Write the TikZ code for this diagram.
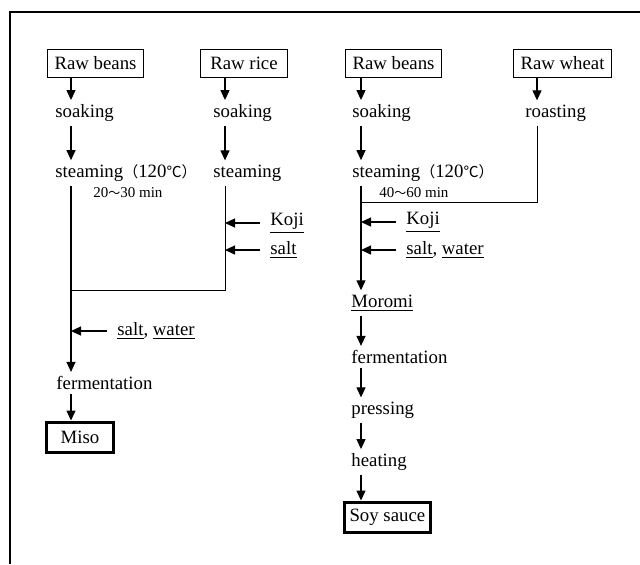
\documentclass[tikz,border=0pt]{standalone}
\usepackage{fontspec}
\setmainfont{Liberation Serif}
\newfontfamily\cjk[Scale=0.8]{Noto Sans CJK JP}
\usepackage{tikz}
\usetikzlibrary{arrows.meta, positioning, calc}

\begin{document}
\begin{tikzpicture}[
    x=0.5pt, y=-0.5pt,
    font=\fontsize{9.4}{11}\selectfont,
    rawbox/.style={draw, line width=0.5pt, inner xsep=3.5pt, minimum height=14pt, anchor=west},
    endbox/.style={draw, line width=1.5pt, inner xsep=2.5pt, minimum height=15pt, anchor=west},
    stage/.style={anchor=west, inner xsep=0pt, inner ysep=2pt},
    addin/.style={anchor=west, inner xsep=5pt, inner ysep=2pt},
    note/.style={anchor=west, inner sep=0pt, font=\fontsize{7.5}{9}\selectfont},
    arrow/.style={line width=0.6pt, -{Triangle[length=5pt, width=4.5pt]}},
    feed/.style={line width=0.5pt}
]
\useasboundingbox (0,0) rectangle (640,564);
\draw[line width=0.8pt] (10,564) -- (10,12) -- (640,12);

\coordinate (colA) at (71,0);
\coordinate (colB) at (225,0);
\coordinate (colC) at (361,0);
\coordinate (colD) at (537,0);
\coordinate (joinA) at (71,290);
\coordinate (joinC) at (361,202);

\node[rawbox] (beansA) at (47,63) {Raw beans};
\node[rawbox, minimum width=43.5pt] (rice) at (200,63) {Raw rice};
\node[rawbox] (beansC) at (345,63) {Raw beans};
\node[rawbox] (wheat) at (513,63) {Raw wheat};

\node[stage] (soakA) at (55,113) {soaking};
\node[stage] (steamA) at (55,173) {steaming{\cjk （}120{\cjk ℃）}};
\node[note] (timeA) at (93,193) {20{\cjk ～}30 min};
\node[stage] (soakB) at (213,113) {soaking};
\node[stage] (steamB) at (213,173) {steaming};
\node[addin] (kojiB) at (260,223) {\underline{Koji}};
\node[addin] (saltB) at (260,250) {\underline{salt}};
\node[addin] (saltA) at (107,331) {\underline{salt}, \underline{water}};
\node[stage] (fermA) at (56,383) {fermentation};
\node[endbox, minimum width=33.5pt] (miso) at (45,437) {Miso};

\node[stage] (soakC) at (352,113) {soaking};
\node[stage] (steamC) at (352,173) {steaming{\cjk （}120{\cjk ℃）}};
\node[note] (timeC) at (379,193) {40{\cjk ～}60 min};
\node[stage] (roast) at (525,113) {roasting};
\node[addin] (kojiC) at (396,222) {\underline{Koji}};
\node[addin] (saltC) at (396,250) {\underline{salt}, \underline{water}};
\node[stage] (moromi) at (351,303) {\underline{Moromi}};
\node[stage] (fermC) at (351,357) {fermentation};
\node[stage] (press) at (351,410) {pressing};
\node[stage] (heat) at (351,462) {heating};
\node[endbox] (soy) at (343,517) {Soy sauce};

\draw[arrow] (beansA.south -| colA) -- (soakA.north -| colA);
\draw[arrow] (soakA.south -| colA) -- (steamA.north -| colA);
\draw[arrow] (steamA.south -| colA) -- (fermA.north -| colA);
\draw[arrow] (fermA.south -| colA) -- (miso.north -| colA);
\draw[arrow] (saltA.west) -- (saltA.west -| colA);

\draw[arrow] (rice.south -| colB) -- (soakB.north -| colB);
\draw[arrow] (soakB.south -| colB) -- (steamB.north -| colB);
\draw[feed] (steamB.south -| colB) |- (joinA);
\draw[arrow] (kojiB.west) -- (kojiB.west -| colB);
\draw[arrow] (saltB.west) -- (saltB.west -| colB);

\draw[arrow] (beansC.south -| colC) -- (soakC.north -| colC);
\draw[arrow] (soakC.south -| colC) -- (steamC.north -| colC);
\draw[arrow] (steamC.south -| colC) -- (moromi.north -| colC);
\draw[arrow] (kojiC.west) -- (kojiC.west -| colC);
\draw[arrow] (saltC.west) -- (saltC.west -| colC);
\draw[arrow] (moromi.south -| colC) -- (fermC.north -| colC);
\draw[arrow] (fermC.south -| colC) -- (press.north -| colC);
\draw[arrow] (press.south -| colC) -- (heat.north -| colC);
\draw[arrow] (heat.south -| colC) -- (soy.north -| colC);

\draw[arrow] (wheat.south -| colD) -- (roast.north -| colD);
\draw[feed] (roast.south -| colD) |- (joinC);
\end{tikzpicture}
\end{document}
